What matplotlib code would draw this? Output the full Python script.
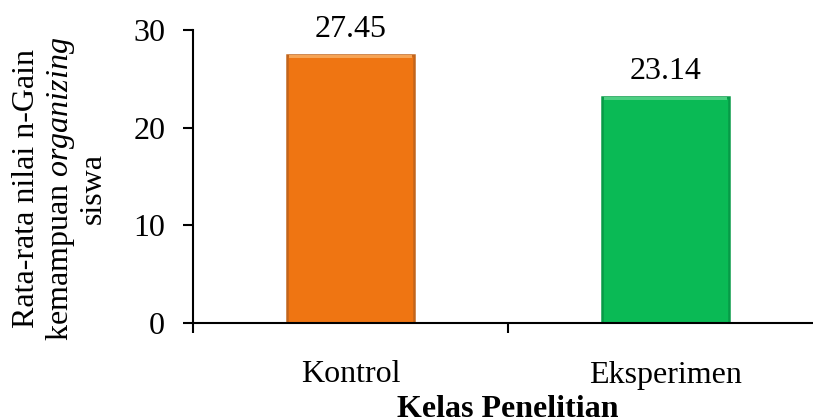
import matplotlib.pyplot as plt
from matplotlib.ticker import FixedLocator

plt.rcParams['font.family'] = ['Liberation Serif', 'DejaVu Serif']
plt.rcParams['mathtext.fontset'] = 'custom'
plt.rcParams['mathtext.rm'] = 'Liberation Serif'
plt.rcParams['mathtext.it'] = 'Liberation Serif:italic'

kelas = ['Kontrol', 'Eksperimen']
rata_rata = [27.45, 23.14]
label_nilai = ['27.45', '23.14']
warna = ['#EF7512', '#0ABA55']
warna_tepi = ['#C2651C', '#079A47']
warna_kilau = ['#F6A455', '#4CCF82']

fig = plt.figure(figsize=(8.13, 4.18), dpi=100)
ax = fig.add_axes([193 / 813, 1 - 323 / 418, 630 / 813, 293 / 418])

x = range(len(kelas))
lebar = 0.405
bars = ax.bar(x, rata_rata, width=lebar, color=warna, edgecolor=warna_tepi, linewidth=1.8)

# thin lighter strip along the top of each bar (bevel look)
tebal = 0.35
ax.bar(x, [tebal] * len(kelas), bottom=[v - tebal for v in rata_rata],
       width=lebar * 0.97, color=warna_kilau, linewidth=0)

# value on top of each bar
for b, teks in zip(bars, label_nilai):
    ax.annotate(teks, (b.get_x() + b.get_width() / 2, b.get_height()),
                xytext=(0, 8), textcoords='offset points',
                ha='center', va='bottom', fontsize=23)

ax.set_xlim(-0.5, 1.5)
ax.set_ylim(0, 30)
ax.set_yticks([0, 10, 20, 30])
ax.set_xticks(list(x))
ax.set_xticklabels(kelas, fontsize=23)
ax.xaxis.set_minor_locator(FixedLocator([-0.5, 0.5, 1.5]))
ax.tick_params(axis='x', which='major', length=0, pad=27)
ax.tick_params(axis='x', which='minor', length=7, width=1.5, direction='out')
ax.tick_params(axis='y', labelsize=23, length=7, width=1.5, direction='out', pad=13)

for s in ['top', 'right']:
    ax.spines[s].set_visible(False)
for s in ['left', 'bottom']:
    ax.spines[s].set_linewidth(1.5)
    ax.spines[s].set_color('black')

ax.set_xlabel('Kelas Penelitian', fontsize=23, fontweight='bold', labelpad=4)

fig.text(60 / 813, 1 - 189 / 418,
         'Rata-rata nilai n-Gain\nkemampuan $organizing$\nsiswa',
         rotation=90, ha='center', va='center', fontsize=23,
         linespacing=1.1, multialignment='center')

fig.savefig('out.png', dpi=100)
